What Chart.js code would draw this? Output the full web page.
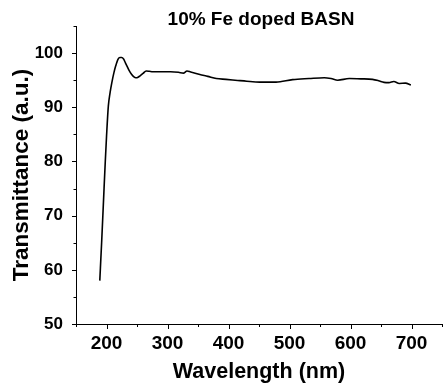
<!DOCTYPE html>
<html>
<head>
<meta charset="utf-8">
<script src="https://cdn.jsdelivr.net/npm/chart.js@4"></script>
<style>
body { margin: 0; background: #fff; }
#wrap { width: 445px; height: 387px; }
</style>
</head>
<body>
<div id="wrap"><canvas id="tChart" width="445" height="387"></canvas></div>
<script>
// values
let wavelength = [189, 192, 195, 198, 200, 203, 206, 209, 212, 215, 219, 222, 225, 228, 231, 234, 237, 241, 245, 248,
  251, 255, 260, 265, 270, 276, 290, 305, 318, 326, 332, 338, 353, 366, 380, 396, 415, 430, 451, 478,
  505, 532, 557, 568, 579, 598, 617, 636, 646, 655, 663, 671, 680, 690, 699]
let transmittance = [58, 65, 72.5, 80, 84.5, 90.2, 92.8, 94.7, 96.3, 97.6, 98.9, 99.2, 99.2, 98.9, 98.2, 97.5, 96.8, 96.1, 95.6, 95.45,
  95.5, 95.8, 96.25, 96.7, 96.65, 96.55, 96.55, 96.55, 96.45, 96.3, 96.7, 96.5, 96.05, 95.7, 95.3, 95.15, 94.95, 94.8, 94.65, 94.65,
  95.1, 95.3, 95.45, 95.3, 95.0, 95.3, 95.25, 95.15, 94.9, 94.6, 94.55, 94.75, 94.4, 94.45, 94.1]
let xTickLabels = [200, 300, 400, 500, 600, 700]
let yTickLabels = [50, 60, 70, 80, 90, 100]

const points = wavelength.map((w, i) => ({ x: w, y: transmittance[i] }))
const FONT = "'Liberation Sans', Arial, sans-serif"

// short outward ticks, major ones a little longer
const tickMarks = {
  id: 'tickMarks',
  afterDraw(chart) {
    const ctx = chart.ctx
    const xs = chart.scales.x
    const ys = chart.scales.y
    const area = chart.chartArea
    ctx.save()
    ctx.strokeStyle = '#000'
    ctx.lineWidth = 1
    ctx.beginPath()
    for (let v = 50; v <= 105; v += 5) {
      const y = Math.round(ys.getPixelForValue(v)) + 0.5
      const len = yTickLabels.includes(v) ? 4 : 2.5
      ctx.moveTo(area.left - len, y)
      ctx.lineTo(area.left, y)
    }
    for (let v = 150; v <= 750; v += 50) {
      const x = Math.round(xs.getPixelForValue(v)) + 0.5
      const len = xTickLabels.includes(v) ? 5 : 3
      ctx.moveTo(x, area.bottom)
      ctx.lineTo(x, area.bottom + len)
    }
    ctx.stroke()
    ctx.fillStyle = '#000'
    ctx.font = 'bold 19px ' + FONT
    ctx.textAlign = 'center'
    ctx.textBaseline = 'middle'
    ctx.fillText('10% Fe doped BASN', 261, 20)
    ctx.restore()
  }
}

const chart = new Chart(document.getElementById('tChart'), {
  type: 'scatter',
  data: {
    datasets: [{
      data: points,
      showLine: true,
      borderColor: '#000',
      borderWidth: 1.6,
      pointRadius: 0,
      cubicInterpolationMode: 'monotone',
      fill: false
    }]
  },
  options: {
    responsive: false,
    animation: false,
    layout: { padding: { top: 26, right: 2, left: 0, bottom: 0 } },
    plugins: { legend: { display: false }, tooltip: { enabled: false }, title: { display: false } },
    scales: {
      x: {
        type: 'linear',
        min: 150,
        max: 750,
        afterFit: s => { s.height = 63 },
        grid: { display: false, drawTicks: true, tickLength: 5 },
        border: { display: true, color: '#000', width: 1 },
        ticks: {
          stepSize: 50,
          autoSkip: false,
          maxRotation: 0,
          padding: 3,
          color: '#000',
          font: { family: FONT, size: 19, weight: 'bold' },
          callback: v => xTickLabels.includes(v) ? String(v) : ''
        },
        title: {
          display: true,
          text: 'Wavelength (nm)',
          color: '#000',
          font: { family: FONT, size: 21.5, weight: 'bold', lineHeight: 1 },
          padding: { top: 0, bottom: 4 }
        }
      },
      y: {
        min: 50,
        max: 105,
        afterFit: s => { s.width = 76 },
        grid: { display: false, drawTicks: true, tickLength: 4 },
        border: { display: true, color: '#000', width: 1 },
        ticks: {
          stepSize: 5,
          autoSkip: false,
          padding: 9,
          color: '#000',
          font: { family: FONT, size: 17, weight: 'bold' },
          callback: v => yTickLabels.includes(v) ? String(v) : ''
        },
        title: {
          display: true,
          text: 'Transmittance (a.u.)',
          color: '#000',
          font: { family: FONT, size: 22.5, weight: 'bold', lineHeight: 1 },
          padding: { top: 11, bottom: 0 }
        }
      }
    }
  },
  plugins: [tickMarks]
})
</script>
</body>
</html>
